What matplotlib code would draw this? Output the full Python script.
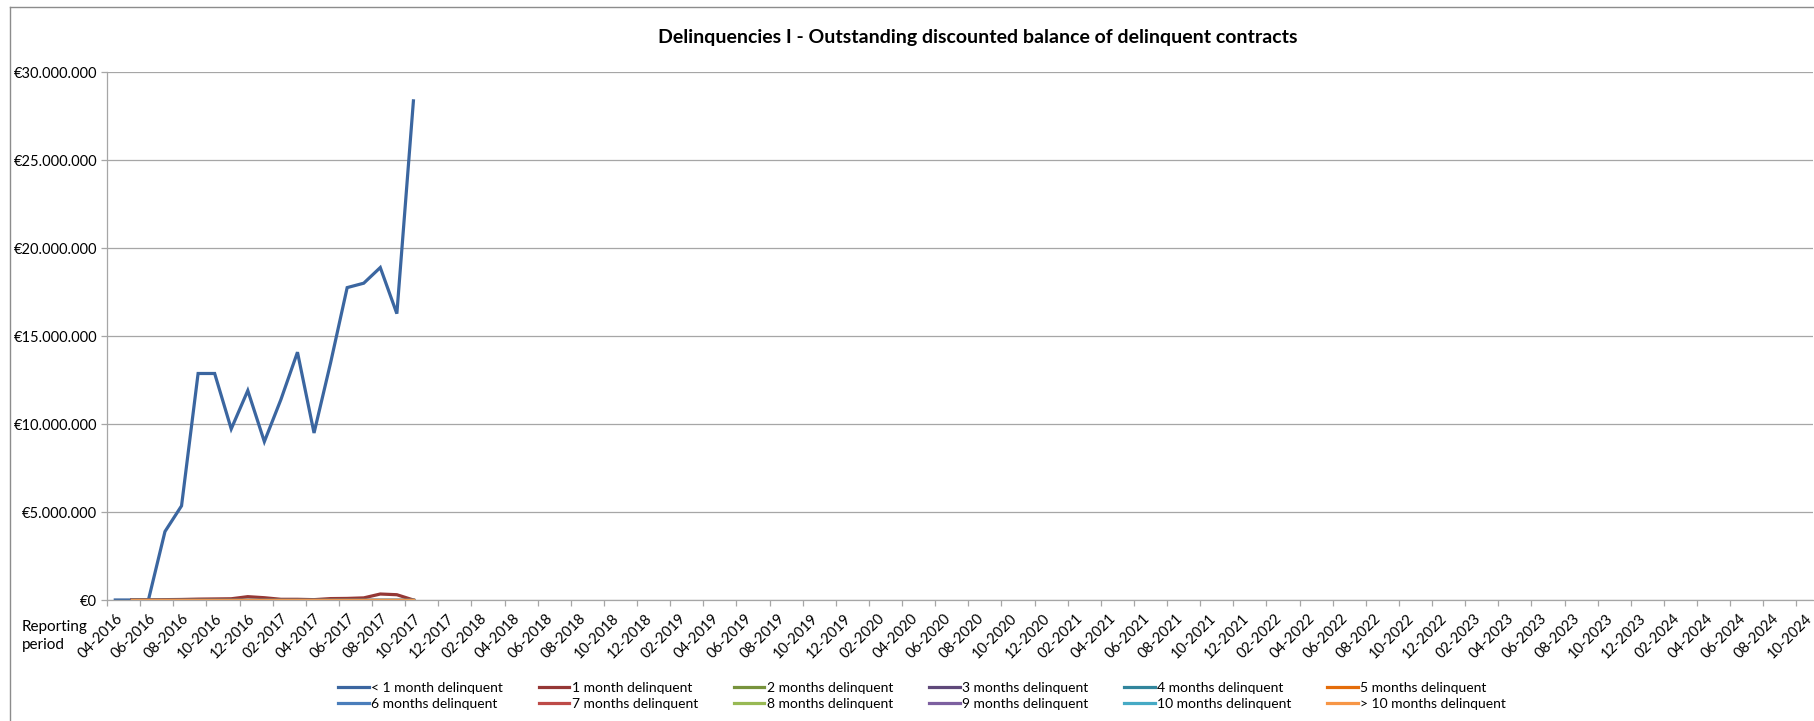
import numpy as np
import pandas as pd
import matplotlib
matplotlib.use("Agg")
import matplotlib.pyplot as plt
from matplotlib.ticker import FuncFormatter, MultipleLocator
from matplotlib.lines import Line2D

plt.rcParams['font.family'] = ['Lato', 'DejaVu Sans']

# reporting periods 04-2016 .. 10-2024
periods = pd.period_range("2016-04", "2024-10", freq="M").strftime("%m-%Y").tolist()

series_names = ["< 1 month delinquent", "1 month delinquent", "2 months delinquent",
                "3 months delinquent", "4 months delinquent", "5 months delinquent",
                "6 months delinquent", "7 months delinquent", "8 months delinquent",
                "9 months delinquent", "10 months delinquent", "> 10 months delinquent"]
series_colors = ["#3B66A0", "#953735", "#77933C", "#5F497A", "#31859C", "#E46C0A",
                 "#4A7EBB", "#BE4B48", "#98B954", "#7D60A0", "#46AAC5", "#F79646"]

# values in EUR million, first reported months only
lt1_month = [0, 0, 0, 3.89, 5.35, 12.87, 12.87, 9.72, 11.9, 9.0, 11.39, 14.08,
             9.49, 13.48, 17.75, 18.0, 18.89, 16.27, 28.36]
one_month = [None, 0.01, 0.01, 0.02, 0.03, 0.05, 0.06, 0.07, 0.19, 0.13, 0.04, 0.04,
             0.02, 0.08, 0.09, 0.12, 0.34, 0.30, 0.0]
zero_months = [None] + [0.0] * 18  # 2 .. >10 months delinquent

values = [lt1_month, one_month] + [zero_months] * 10

fig = plt.figure(figsize=(18.15, 7.21), dpi=100)
ax = fig.add_axes([107 / 1815, 1 - 600 / 721, (1813 - 107) / 1815, (600 - 72) / 721])

handles = []
for name, col, vals in zip(series_names, series_colors, values):
    y = np.array([np.nan if v is None else v * 1e6 for v in vals], dtype=float)
    h, = ax.plot(np.arange(len(y)), y, color=col, lw=2.3, label=name,
                 solid_joinstyle="miter")
    handles.append(h)

ax.set_xlim(-0.5, len(periods) - 0.5)
ax.set_ylim(0, 30e6)
ax.yaxis.set_major_locator(MultipleLocator(5e6))
ax.yaxis.set_major_formatter(FuncFormatter(lambda v, p: "€" + f"{int(v):,}".replace(",", ".")))
ax.grid(axis="y", color="#A6A6A6", lw=0.9)
ax.set_axisbelow(True)

ax.set_xticks(np.arange(-0.5, len(periods), 2))
ax.set_xticklabels([])
ax.set_xticks(np.arange(0, len(periods), 2), minor=True)
ax.set_xticklabels(periods[::2], minor=True, rotation=45, ha="right",
                   rotation_mode="anchor", fontsize=10.5)
ax.tick_params(axis="x", which="major", length=4, color="#A6A6A6", width=0.9)
ax.tick_params(axis="x", which="minor", length=0, pad=8)
ax.tick_params(axis="y", length=4, color="#A6A6A6", width=0.9, labelsize=10.5, pad=3)

for s in ["top", "right"]:
    ax.spines[s].set_visible(False)
for s in ["left", "bottom"]:
    ax.spines[s].set_color("#A6A6A6")
    ax.spines[s].set_linewidth(0.9)

fig.text(978 / 1815, 1 - 38 / 721, "Delinquencies I - Outstanding discounted balance of delinquent contracts",
         ha="center", va="center", fontsize=14, fontweight="bold")
fig.text(22 / 1815, 1 - 636 / 721, "Reporting\nperiod", ha="left", va="center",
         fontsize=11, linespacing=1.3)

# legend filled row by row like excel
order = [0, 6, 1, 7, 2, 8, 3, 9, 4, 10, 5, 11]
fig.legend([handles[i] for i in order], [series_names[i] for i in order],
           loc="center", bbox_to_anchor=(922 / 1815, 1 - 696 / 721), ncol=6,
           frameon=False, fontsize=10, handlelength=2.2, handletextpad=0.15,
           columnspacing=2.6, labelspacing=0.3)

# outer chart frame
fig.add_artist(Line2D([10 / 1815, 10 / 1815], [0, 1 - 7 / 721], color="#8C8C8C", lw=1))
fig.add_artist(Line2D([10 / 1815, 1], [1 - 7 / 721, 1 - 7 / 721], color="#8C8C8C", lw=1))

fig.savefig("out.png", dpi=100)
